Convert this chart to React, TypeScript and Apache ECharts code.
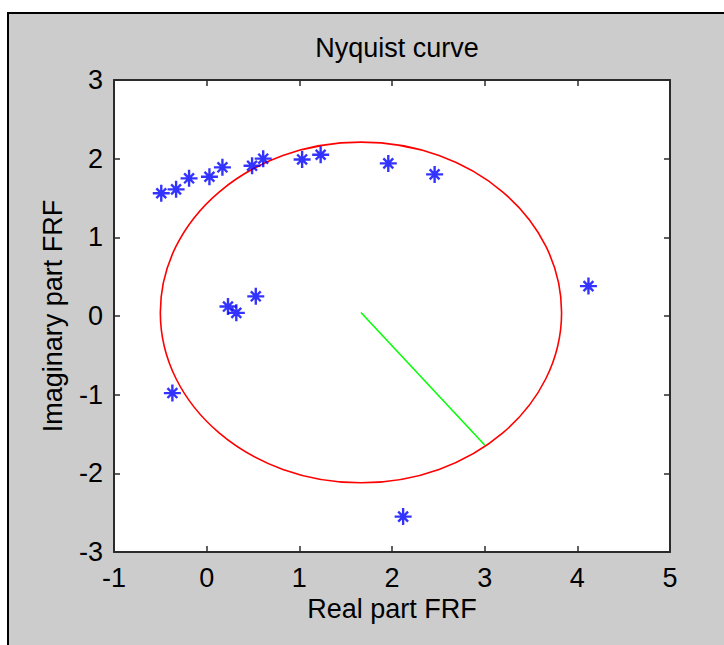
import React, { useEffect, useRef } from "react";
import * as echarts from "echarts";

const titleText = "Nyquist curve";
const xName = "Real part FRF";
const yName = "Imaginary part FRF";

const realPart = [-0.49, -0.33, -0.19, 0.03, 0.17, 0.49, 0.61, 1.03, 1.23, 1.96, 2.46, 4.12, 0.23, 0.32, 0.53, -0.37, 2.12];
const imagPart = [1.56, 1.61, 1.75, 1.77, 1.89, 1.91, 2.0, 1.99, 2.05, 1.94, 1.8, 0.38, 0.12, 0.04, 0.25, -0.98, -2.55];

const circleCenter = [1.665, 0.045];
const circleRadius = 2.165;
const radiusEnd = [3.0, -1.64];

const xMin = -1, xMax = 5, yMin = -3, yMax = 3;

const FONT = "'Liberation Sans', Arial, sans-serif";
const FS = 27;

const STAR =
  "path://M0 8.6 H20 V11.4 H0 Z M8.6 0 H11.4 V20 H8.6 Z M6.8 6.8 H13.2 V13.2 H6.8 Z " +
  "M3.2 5.2 L5.2 3.2 L16.8 14.8 L14.8 16.8 Z M14.8 3.2 L16.8 5.2 L5.2 16.8 L3.2 14.8 Z";

export default function App() {
  const ref = useRef<HTMLDivElement>(null);
  useEffect(() => {
    if (!ref.current) return;
    const chart = echarts.init(ref.current, null, { renderer: "svg" });
    const axisCommon = {
      type: "value",
      interval: 1,
      splitLine: { show: false },
      axisLine: { show: true, onZero: false, lineStyle: { color: "#2b2b2b", width: 2 } },
      axisTick: { show: true, inside: true, length: 6, lineStyle: { color: "#2b2b2b", width: 1.5 } },
    };
    const points = realPart.map((x, i) => [x, imagPart[i]]);
    chart.setOption({
      animation: false,
      backgroundColor: "transparent",
      textStyle: { fontFamily: FONT },
      title: {
        text: titleText,
        left: 392,
        top: 29,
        textAlign: "center",
        textStyle: { fontFamily: FONT, fontSize: FS, fontWeight: "normal", color: "#000" },
      },
      grid: { left: 114, top: 80, right: 54, bottom: 93, show: true, backgroundColor: "#ffffff", borderWidth: 0 },
      xAxis: [
        {
          ...axisCommon,
          min: xMin,
          max: xMax,
          position: "bottom",
          name: xName,
          nameLocation: "middle",
          nameGap: 40,
          nameTextStyle: { fontFamily: FONT, fontSize: FS, color: "#000" },
          axisLabel: { fontFamily: FONT, fontSize: FS, color: "#000", margin: 12 },
        },
        {
          ...axisCommon,
          min: xMin,
          max: xMax,
          position: "top",
          axisLabel: { show: false },
        },
      ],
      yAxis: [
        {
          ...axisCommon,
          min: yMin,
          max: yMax,
          position: "left",
          name: yName,
          nameLocation: "middle",
          nameGap: 48,
          nameTextStyle: { fontFamily: FONT, fontSize: FS, color: "#000" },
          axisLabel: { fontFamily: FONT, fontSize: FS, color: "#000", margin: 11 },
        },
        {
          ...axisCommon,
          min: yMin,
          max: yMax,
          position: "right",
          axisLabel: { show: false },
        },
      ],
      series: [
        {
          type: "custom",
          coordinateSystem: "cartesian2d",
          xAxisIndex: 0,
          yAxisIndex: 0,
          z: 2,
          data: [[circleCenter[0], circleCenter[1], circleRadius]],
          renderItem: (params: any, api: any) => {
            const c = api.coord([api.value(0), api.value(1)]);
            const s = api.size([api.value(2), api.value(2)]);
            return {
              type: "ellipse",
              shape: { cx: c[0], cy: c[1], rx: s[0], ry: s[1] },
              style: { fill: "none", stroke: "#ff0000", lineWidth: 1.6 },
            };
          },
        },
        {
          type: "line",
          xAxisIndex: 0,
          yAxisIndex: 0,
          z: 3,
          showSymbol: false,
          data: [circleCenter, radiusEnd],
          lineStyle: { color: "#00ff00", width: 1.5 },
        },
        {
          type: "scatter",
          xAxisIndex: 0,
          yAxisIndex: 0,
          z: 4,
          symbol: STAR,
          symbolSize: 17,
          itemStyle: { color: "#0000ff" },
          data: points,
        },
      ],
    });
    return () => chart.dispose();
  }, []);
  return (
    <div style={{ position: "fixed", left: 0, top: 0, width: 724, height: 645, background: "#ffffff", overflow: "hidden" }}>
      <div
        style={{
          position: "absolute",
          left: 7,
          top: 12,
          width: 760,
          height: 680,
          border: "2px solid #000",
          background: "#cccccc",
        }}
      />
      <div ref={ref} style={{ position: "absolute", left: 0, top: 0, width: 724, height: 645 }} />
    </div>
  );
}
